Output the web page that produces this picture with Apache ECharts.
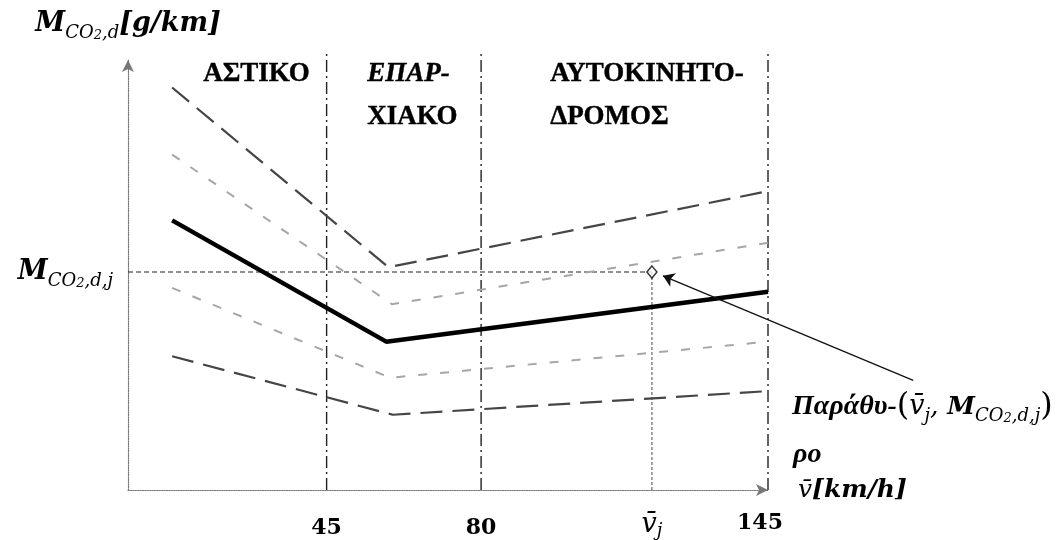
<!DOCTYPE html>
<html><head><meta charset="utf-8">
<script src="https://cdn.jsdelivr.net/npm/echarts@6/dist/echarts.min.js"></script>
<style>html,body{margin:0;padding:0;background:#fff}#c{width:1057px;height:540px}</style>
</head><body><div id="c"></div>
<script>
// --- data (schematic units: x in km/h, y arbitrary emission units 0..100) ---
const regionBounds = [45, 80, 145];
const xTickValues = [45, 80, 118.7, 145];
const vj = 118.7;
const Mj = 50.7;
const upperDark  = [[10, 93.6], [59.0, 51.8], [145, 69.5]];
const upperLight = [[10, 78.0], [59.8, 43.2], [145, 57.5]];
const baseCurve  = [[10, 62.7], [58.5, 34.5], [145, 46.1]];
const lowerLight = [[10, 47.0], [59.4, 26.1], [145, 34.5]];
const lowerDark  = [[10, 31.1], [60.0, 17.5], [145, 23.0]];
const arrowLine  = [[177.9, 25.5], [121.2, 49.8]];
const regionTop = 101.5;

const SERIF = '"Liberation Serif", "DejaVu Serif", serif';
const MATH = '"DejaVu Serif", "Liberation Serif", serif';
const big = {fontFamily: MATH, fontWeight: 'bold', fontStyle: 'italic', fontSize: 27, lineHeight: 36, verticalAlign: 'middle', color: '#000'};
const sub = {fontFamily: MATH, fontStyle: 'italic', fontSize: 18, lineHeight: 19, verticalAlign: 'bottom', color: '#000'};
const sub2 = {fontFamily: MATH, fontStyle: 'italic', fontSize: 13, lineHeight: 13, verticalAlign: 'bottom', color: '#000'};
const vbar = Object.assign({}, big, {fontWeight: 'normal'});

const chart = echarts.init(document.getElementById('c'));

function lineSeries(data, style, z) {
  return {type: 'line', data: data, symbol: 'none', clip: false, z: z || 2,
    lineStyle: style, silent: true, animation: false};
}

const series = [
  lineSeries(upperDark,  {color: '#454545', width: 2.2, type: [22, 10]}),
  lineSeries(upperLight, {color: '#a6a6a6', width: 2, type: [9, 13]}),
  lineSeries(baseCurve,  {color: '#000', width: 4.5}, 3),
  lineSeries(lowerLight, {color: '#a6a6a6', width: 2, type: [9, 13]}),
  lineSeries(lowerDark,  {color: '#454545', width: 2.2, type: [22, 10]})
];
regionBounds.forEach(b => {
  series.push(lineSeries([[b, 0], [b, regionTop]], {color: '#222', width: 1.4, type: [12, 4, 2, 4]}, 1));
});
series.push(lineSeries([[0, Mj], [vj, Mj]], {color: '#222', width: 1.2, type: [5, 3]}, 1));
series.push(lineSeries([[vj, 0], [vj, Mj]], {color: '#666', width: 1.2, type: [3, 2]}, 1));
series.push({type: 'scatter', data: [[vj, Mj]], symbol: 'diamond', symbolSize: [10, 12], z: 5,
  itemStyle: {color: '#fff', borderColor: '#000', borderWidth: 1.5}, animation: false});
series.push({type: 'lines', coordinateSystem: 'cartesian2d', clip: false, z: 4, animation: false,
  symbol: ['none', 'arrow'], symbolSize: 11,
  lineStyle: {color: '#111', width: 1.3, opacity: 1},
  data: [{coords: arrowLine}]});

const regionFont = 'bold 27px ' + SERIF;

const option = {
  animation: false,
  backgroundColor: '#fff',
  grid: {left: 128, right: 289, top: 60, bottom: 40},
  xAxis: {
    type: 'value', min: 0, max: 145,
    splitLine: {show: false},
    axisTick: {show: false},
    axisLine: {show: true, symbol: ['none', 'arrow'], symbolSize: [9, 12],
      lineStyle: {color: '#777', type: 'dotted', width: 1.2}},
    axisLabel: {
      customValues: xTickValues, margin: 20,
      formatter: function (v) {
        if (Math.abs(v - vj) < 0.01) return '{v|v\u0304}{j|j}';
        if (v === 145) return '{e|145}';
        return '{n|' + v + '}';
      },
      rich: {
        n: {fontFamily: MATH, fontWeight: 'bold', fontSize: 22, lineHeight: 26, color: '#000', padding: [10, 0, 0, 0]},
        e: {fontFamily: MATH, fontWeight: 'bold', fontSize: 22, lineHeight: 26, color: '#000', padding: [0, 16, 0, 0]},
        v: Object.assign({}, vbar, {lineHeight: 30}),
        j: sub
      }
    },
    name: '{v|v\u0304}{u|[km/h]}', nameLocation: 'end', nameGap: 30,
    nameTextStyle: {rich: {v: Object.assign({}, vbar, {fontSize: 25}), u: Object.assign({}, big, {fontSize: 25})}}
  },
  yAxis: {
    type: 'value', min: 0, max: 100,
    splitLine: {show: false},
    axisTick: {show: false},
    axisLine: {show: true, symbol: ['none', 'arrow'], symbolSize: [9, 12],
      lineStyle: {color: '#777', type: 'dotted', width: 1.2}},
    axisLabel: {
      customValues: [Mj], margin: 15,
      formatter: function () { return '{m|M}{s|CO}{s2|2}{s|,d,j}'; },
      rich: {m: big, s: sub, s2: sub2}
    },
    name: '{m|M}{s|CO}{s2|2}{s|,d}{m|[g/km]}', nameLocation: 'end', nameGap: 18,
    nameTextStyle: {rich: {m: big, s: sub, s2: sub2}}
  },
  graphic: [
    {type: 'text', left: 203, top: 60, style: {text: 'ΑΣΤΙΚΟ', font: regionFont, fill: '#000', stroke: '#000', lineWidth: 0.4}},
    {type: 'text', left: 367, top: 60, style: {text: 'ΕΠΑΡ-', font: 'italic ' + regionFont, fill: '#000', stroke: '#000', lineWidth: 0.4}},
    {type: 'text', left: 367, top: 103, style: {text: 'ΧΙΑΚΟ', font: regionFont, fill: '#000', stroke: '#000', lineWidth: 0.4}},
    {type: 'text', left: 550, top: 60, style: {text: 'ΑΥΤΟΚΙΝΗΤΟ-', font: regionFont, fill: '#000', stroke: '#000', lineWidth: 0.4}},
    {type: 'text', left: 550, top: 103, style: {text: 'ΔΡΟΜΟΣ', font: regionFont, fill: '#000', stroke: '#000', lineWidth: 0.4}},
    {type: 'text', left: 792, top: 391, style: {
      text: '{b|Παράθυ-}{p|(}{v|v\u0304}{s|j}{c|, }{m|M}{s|CO}{s2|2}{s|,d,j}{p|)}',
      rich: {
        b: {fontFamily: SERIF, fontWeight: 'bold', fontStyle: 'italic', fontSize: 28, lineHeight: 36, verticalAlign: 'middle', color: '#000'},
        p: {fontFamily: MATH, fontSize: 32, lineHeight: 36, verticalAlign: 'middle', color: '#000'},
        v: vbar,
        c: vbar,
        m: Object.assign({}, big, {fontSize: 25}), s: sub, s2: sub2
      }
    }},
    {type: 'text', left: 793, top: 441, style: {text: 'ρο', font: 'italic bold 28px ' + SERIF, fill: '#000'}}
  ],
  series: series
};
chart.setOption(option);
</script>
</body></html>
